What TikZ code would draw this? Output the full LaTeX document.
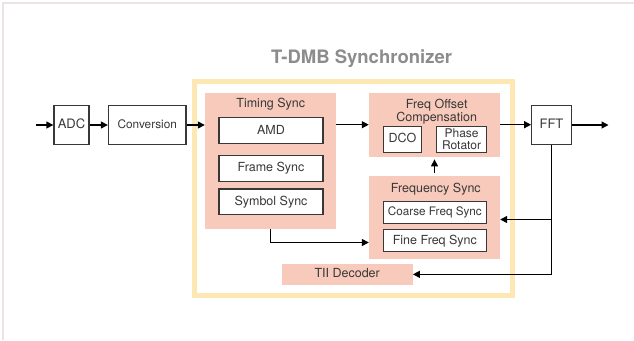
\documentclass[tikz,border=0pt]{standalone}
\usepackage{fontspec}
\setmainfont{TeX Gyre Heros}
\usetikzlibrary{arrows.meta}
\definecolor{salmon}{HTML}{F7CABC}
\definecolor{butter}{HTML}{FDE8B4}
\definecolor{ink}{HTML}{383838}
\definecolor{titlegrey}{HTML}{8C8C8C}
\definecolor{framegrey}{HTML}{ECE4E4}
\begin{document}
\begin{tikzpicture}[x=1pt,y=-1pt,
  ttext/.style={text=ink, inner sep=0pt, font=\fontsize{12.5}{10.6}\selectfont},
  lbl/.style={ttext, text height=0.72em, text depth=0pt},
  whitebox/.style={draw=ink, line width=1.3pt, fill=white},
  group/.style={fill=salmon, inner sep=0pt},
  arr/.style={draw=black, line width=1.3pt, -{Triangle[length=7pt,width=7pt]}}
]
\useasboundingbox (0,0) rectangle (634,340);
\fill[white] (0,0) rectangle (634,340);
% thin page frame on the top and left
\draw[framegrey, line width=1.6pt] (3.2,340) -- (3.2,3) -- (634,3);

% synchronizer container and its title
\node[lbl, font=\fontsize{18.5}{18.5}\selectfont\bfseries, text=titlegrey] (title) at (361.5,60) {T-DMB Synchronizer};
\node[draw=butter, line width=5pt, inner sep=0pt, minimum width=318.5pt, minimum height=214pt] (sync) at (353.25,188) {};

% front end
\node[lbl, whitebox, font=\fontsize{13}{13}\selectfont, minimum width=35pt, minimum height=39pt] (adc) at (71.5,125) {ADC};
\node[lbl, whitebox, font=\fontsize{11.8}{11.8}\selectfont, minimum width=77.5pt, minimum height=39pt] (conv) at (147.25,125) {Conversion};
\node[lbl, whitebox, font=\fontsize{13}{13}\selectfont, minimum width=39.5pt, minimum height=39.5pt] (fft) at (551.5,125) {FFT};

% timing sync group
\node[group, minimum width=131pt, minimum height=136.3pt] (timing) at (270.5,160.85) {};
\node[lbl] (timingl) at (270.8,104.2) {Timing Sync};
\node[lbl, whitebox, minimum width=103.8pt, minimum height=25.7pt] (amd) at (271,130.6) {AMD};
\node[lbl, whitebox, minimum width=103.8pt, minimum height=25.7pt] (frame) at (271,168.3) {Frame Sync};
\node[lbl, whitebox, minimum width=103.8pt, minimum height=25.7pt] (symbol) at (271,201.7) {Symbol Sync};

% frequency offset compensation group
\node[group, minimum width=131pt, minimum height=64pt] (foc) at (434.5,124.7) {};
\node[ttext, align=center, anchor=north] (focl) at (436.7,98.5) {Freq Offset\\Compensation};
\node[lbl, whitebox, minimum width=38.6pt, minimum height=25.7pt] (dco) at (402.5,139.3) {DCO};
\node[ttext, whitebox, align=center, font=\fontsize{12}{11.2}\selectfont, minimum width=50.3pt, minimum height=25.7pt] (rot) at (461.6,139.3) {Phase\\Rotator};

% frequency sync group
\node[group, minimum width=131pt, minimum height=82.7pt] (fsync) at (434.5,217.35) {};
\node[lbl] (fsyncl) at (435.8,188.5) {Frequency Sync};
\node[lbl, whitebox, font=\fontsize{11.7}{11.7}\selectfont, minimum width=103.3pt, minimum height=22.3pt] (coarse) at (434.85,212.35) {Coarse Freq Sync};
\node[lbl, whitebox, minimum width=103.3pt, minimum height=22.6pt] (fine) at (434.85,240.5) {Fine Freq Sync};

% TII decoder
\node[lbl, group, minimum width=131pt, minimum height=20.7pt] (tii) at (347.2,274.35) {TII Decoder};

% signal path
\coordinate (in) at (36,125);
\coordinate (out) at (608.5,125);
\coordinate (bend) at (271,242.5);
\coordinate (tap) at (551.5,219.5);
\draw[arr] (in) -- (adc);
\draw[arr] (adc) -- (conv);
\draw[arr] (conv.east) -- (conv.east -| timing.west);
\draw[arr] (timing.east |- foc) -- (foc.west);
\draw[arr] (foc.east) -- (foc.east -| fft.west);
\draw[arr] (fft) -- (out);
\draw[arr, shorten <=2.5pt, shorten >=2.5pt] (fsync.north) -- (foc.south);
\draw[arr] (timing.south) |- (bend -| fsync.west);
\draw[arr] (fft.south) |- (tii.east);
\draw[arr] (tap) -- (tap -| fsync.east);
\end{tikzpicture}
\end{document}
